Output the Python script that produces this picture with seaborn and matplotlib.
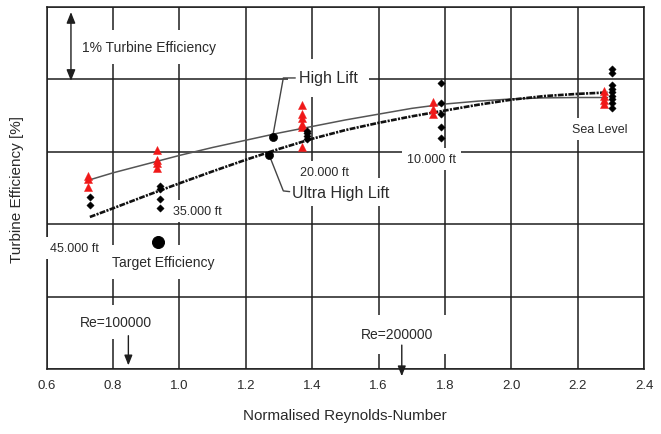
import matplotlib
matplotlib.use("Agg")
import matplotlib.pyplot as plt
import seaborn as sns
import pandas as pd

# --- measured turbine efficiency (relative %, one grid step = 1 %) ---
# High Lift profile (red triangles)
high_lift_re = [0.724, 0.724, 0.724,
                0.932, 0.932, 0.932, 0.932,
                1.369, 1.369, 1.369, 1.369, 1.369, 1.369,
                1.764, 1.764, 1.764,
                2.280, 2.280, 2.280, 2.280]
high_lift_eff = [2.67, 2.62, 2.51,
                 3.03, 2.88, 2.85, 2.77,
                 3.64, 3.52, 3.47, 3.38, 3.34, 3.06,
                 3.69, 3.59, 3.52,
                 3.84, 3.77, 3.71, 3.66]

# Ultra High Lift profile (black diamonds)
ultra_re = [0.730, 0.730,
            0.942, 0.942, 0.942, 0.942,
            1.385, 1.385, 1.385, 1.385,
            1.787, 1.787, 1.787, 1.787, 1.787,
            2.303, 2.303, 2.303, 2.303, 2.303, 2.303, 2.303, 2.303, 2.303]
ultra_eff = [2.37, 2.26,
             2.53, 2.49, 2.35, 2.23,
             3.29, 3.26, 3.22, 3.18,
             3.95, 3.67, 3.52, 3.34, 3.19,
             4.14, 4.09, 3.92, 3.87, 3.82, 3.77, 3.73, 3.68, 3.61]

# Trend curves
hl_curve_re = [0.72, 0.8, 0.9, 1.0, 1.1, 1.2, 1.3, 1.4, 1.5, 1.6, 1.7,
               1.8, 1.9, 2.0, 2.1, 2.2, 2.29]
hl_curve_eff = [2.60, 2.71, 2.83, 2.95, 3.06, 3.16, 3.26, 3.35, 3.44, 3.52,
                3.60, 3.66, 3.70, 3.73, 3.745, 3.75, 3.75]
uhl_curve_re = [0.73, 0.8, 0.9, 1.0, 1.1, 1.2, 1.3, 1.4, 1.5, 1.6, 1.7,
                1.8, 1.9, 2.0, 2.1, 2.2, 2.29]
uhl_curve_eff = [2.10, 2.22, 2.395, 2.565, 2.73, 2.89, 3.04, 3.18, 3.30, 3.40,
                 3.49, 3.57, 3.65, 3.72, 3.77, 3.80, 3.82]

# Labelled single points
target_re, target_eff = [0.936], [1.75]
hl_point_re, hl_point_eff = [1.281], [3.21]
uhl_point_re, uhl_point_eff = [1.270], [2.96]

# Flight altitude labels
altitude_labels = ["45.000 ft", "35.000 ft", "20.000 ft", "10.000 ft", "Sea Level"]
altitude_re = [0.682, 1.053, 1.436, 1.761, 2.268]
altitude_eff = [1.67, 2.18, 2.725, 2.90, 3.31]

# Axis ticks
x_ticks = [0.6, 0.8, 1.0, 1.2, 1.4, 1.6, 1.8, 2.0, 2.2, 2.4]
x_tick_labels = ["0.6", "0.8", "1.0", "1.2", "1.4", "1.6", "1.8", "2.0", "2.2", "2.4"]
y_ticks = [0, 1, 2, 3, 4, 5]

sns.set_theme(style="white")
plt.rcParams["font.family"] = ["Liberation Sans", "DejaVu Sans"]

INK = "#1e1e1e"
TXT = "#2a2a2a"
RED = "#f01818"

fig = plt.figure(figsize=(6.61, 4.35), dpi=100)
ax = fig.add_axes([0.0707, 0.1494, 0.9743 - 0.0707, 0.9816 - 0.1494])

hl_df = pd.DataFrame({"re": high_lift_re, "eff": high_lift_eff})
uhl_df = pd.DataFrame({"re": ultra_re, "eff": ultra_eff})
hl_c = pd.DataFrame({"re": hl_curve_re, "eff": hl_curve_eff})
uhl_c = pd.DataFrame({"re": uhl_curve_re, "eff": uhl_curve_eff})

sns.lineplot(data=hl_c, x="re", y="eff", ax=ax, color="#555555", lw=1.1,
             sort=False, estimator=None, zorder=4)
sns.lineplot(data=uhl_c, x="re", y="eff", ax=ax, color="#111111", lw=1.9,
             sort=False, estimator=None, zorder=4,
             linestyle=(0, (2.2, 0.5, 0.8, 0.5)))

sns.scatterplot(data=hl_df, x="re", y="eff", ax=ax, marker="^", s=34,
                color=RED, edgecolor=RED, linewidth=0.3, zorder=5)
sns.scatterplot(data=uhl_df, x="re", y="eff", ax=ax, marker="D", s=14,
                color="black", edgecolor="black", linewidth=0.3, zorder=6)

sns.scatterplot(x=target_re, y=target_eff, ax=ax, s=75, color="black",
                edgecolor="black", zorder=6)
sns.scatterplot(x=hl_point_re + uhl_point_re, y=hl_point_eff + uhl_point_eff,
                ax=ax, s=34, color="black", edgecolor="black", zorder=6)

ax.set_xlim(0.6, 2.4)
ax.set_ylim(0, 5)
ax.set_xticks(x_ticks)
ax.set_xticklabels(x_tick_labels)
ax.set_yticks(y_ticks)
ax.set_yticklabels([])
ax.grid(True, color=INK, lw=1.1)
ax.set_axisbelow(True)
for sp in ax.spines.values():
    sp.set_color(INK)
    sp.set_linewidth(1.1)
ax.tick_params(axis="both", direction="out", length=2.5, width=1.0, color=INK,
               labelsize=9.5, labelcolor=TXT, pad=5)

ax.set_xlabel("Normalised Reynolds-Number", fontsize=11, color=TXT, labelpad=12)
ax.set_ylabel("Turbine Efficiency [%]", fontsize=11, color=TXT, labelpad=9)

box = dict(boxstyle="square,pad=0.7", fc="white", ec="none")
small_box = dict(boxstyle="square,pad=0.4", fc="white", ec="none")

for lab, xr, ye in zip(altitude_labels, altitude_re, altitude_eff):
    ax.text(xr, ye, lab, fontsize=9, color=TXT, ha="center", va="center",
            bbox=small_box, zorder=3)

ax.text(0.706, 4.45, "1% Turbine Efficiency", fontsize=10, color=TXT,
        ha="left", va="center", bbox=box, zorder=3)
ax.annotate("", xy=(0.673, 3.98), xytext=(0.673, 4.93),
            arrowprops=dict(arrowstyle="<|-|>,head_length=0.55,head_width=0.22",
                            color=INK, lw=1.0, shrinkA=0, shrinkB=0), zorder=4)

ax.text(0.951, 1.48, "Target Efficiency", fontsize=10, color=TXT,
        ha="center", va="center", bbox=box, zorder=3)

ax.text(1.360, 4.02, "High Lift", fontsize=11.5, color=TXT, ha="left",
        va="center", bbox=box, zorder=3)
ax.plot([hl_point_re[0], 1.313, 1.349], [hl_point_eff[0], 4.02, 4.02],
        color="#444444", lw=1.0, zorder=4)

ax.text(1.340, 2.44, "Ultra High Lift", fontsize=11.5, color=TXT, ha="left",
        va="center", bbox=small_box, zorder=3)
ax.plot([uhl_point_re[0], 1.313, 1.332], [uhl_point_eff[0], 2.46, 2.45],
        color="#444444", lw=1.0, zorder=4)

ax.text(0.809, 0.65, "Re=100000", fontsize=10, color=TXT, ha="center",
        va="center", bbox=box, zorder=3)
ax.annotate("", xy=(0.846, 0.05), xytext=(0.846, 0.46),
            arrowprops=dict(arrowstyle="-|>,head_length=0.5,head_width=0.2",
                            color=INK, lw=1.0, shrinkA=0, shrinkB=0), zorder=4)

ax.text(1.656, 0.48, "Re=200000", fontsize=10, color=TXT, ha="center",
        va="center", bbox=dict(boxstyle="square,pad=0.9", fc="white", ec="none"),
        zorder=3)
ax.annotate("", xy=(1.67, -0.1), xytext=(1.67, 0.33),
            arrowprops=dict(arrowstyle="-|>,head_length=0.5,head_width=0.2",
                            color=INK, lw=1.0, shrinkA=0, shrinkB=0),
            annotation_clip=False, zorder=4)

fig.savefig("out.png", dpi=100)
